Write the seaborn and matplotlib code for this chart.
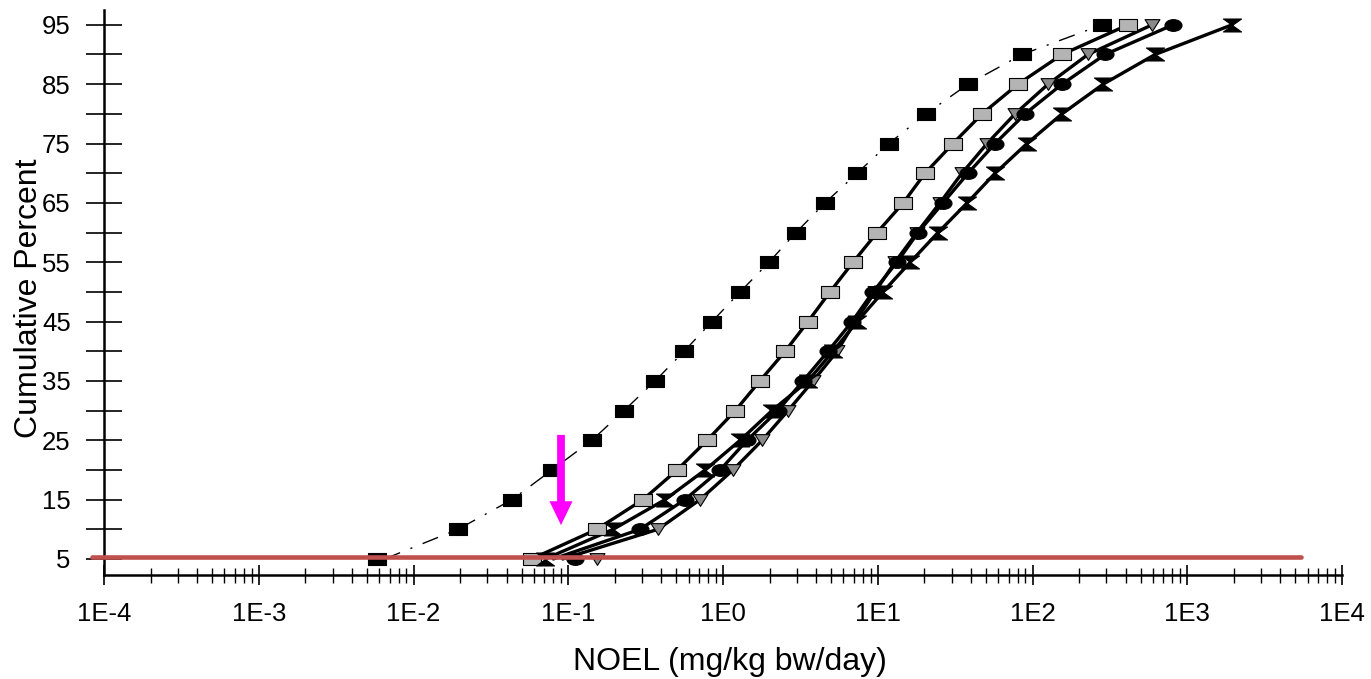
import matplotlib
matplotlib.use("Agg")
import matplotlib.pyplot as plt
import seaborn as sns
import numpy as np
from matplotlib.path import Path
from matplotlib.ticker import LogLocator, NullFormatter

# cumulative percent levels shared by every series
percent = [5, 10, 15, 20, 25, 30, 35, 40, 45, 50, 55, 60, 65, 70, 75, 80, 85, 90, 95]

# NOEL values (mg/kg bw/day), one list per series
noel_black_sq = [0.0058, 0.0194, 0.0433, 0.0785, 0.142, 0.229, 0.364, 0.56, 0.849, 1.29,
                 1.98, 2.96, 4.56, 7.35, 11.8, 20.5, 38.3, 85.5, 281]
noel_gray_sq = [0.0583, 0.153, 0.304, 0.505, 0.789, 1.20, 1.73, 2.52, 3.54, 4.91,
                6.92, 9.89, 14.6, 20.2, 30.6, 47.2, 80.5, 155, 414]
noel_triangle = [0.153, 0.38, 0.71, 1.16, 1.79, 2.63, 3.82, 5.46, 7.13, 9.6,
                 12.9, 17.9, 25.2, 35.0, 50.8, 77.1, 126, 228, 592]
noel_circle = [0.111, 0.291, 0.567, 0.957, 1.43, 2.26, 3.29, 4.77, 6.82, 9.31,
               13.3, 18.2, 26.4, 38.3, 57.3, 89.5, 155, 294, 809]
noel_hourglass = [0.0708, 0.195, 0.422, 0.766, 1.29, 2.07, 3.54, 5.14, 7.35, 10.8,
                  16.2, 24.5, 37.8, 57.3, 92.1, 155, 286, 619, 1945]

# where each fitted curve starts at the 5 % level (black sq, gray sq, triangle, circle, hourglass)
curve_start = [0.0065, 0.058, 0.092, 0.08, 0.071]

# 5 % cut-off line and the arrow pointing at it
cutoff_x = [8.4e-5, 5.4e3]
cutoff_y = [5.4, 5.4]
arrow_x = 0.0897
arrow_tail, arrow_tip = 25.9, 10.7

x_ticks = [1e-4, 1e-3, 1e-2, 1e-1, 1e0, 1e1, 1e2, 1e3, 1e4]
x_tick_labels = ["1E-4", "1E-3", "1E-2", "1E-1", "1E0", "1E1", "1E2", "1E3", "1E4"]
y_major = [5, 15, 25, 35, 45, 55, 65, 75, 85, 95]
y_minor = [10, 20, 30, 40, 50, 60, 70, 80, 90]

# marker shapes (wider than tall, like the scanned figure)
rect = Path([(-1.45, -1), (1.45, -1), (1.45, 1), (-1.45, 1), (-1.45, -1)],
            [Path.MOVETO, Path.LINETO, Path.LINETO, Path.LINETO, Path.CLOSEPOLY])
tri_down = Path([(-1.27, 1), (1.27, 1), (0, -1), (-1.27, 1)],
                [Path.MOVETO, Path.LINETO, Path.LINETO, Path.CLOSEPOLY])
hourglass = Path([(-1.4, 1), (1.4, 1), (-1.4, -1), (1.4, -1), (-1.4, 1)],
                 [Path.MOVETO, Path.LINETO, Path.LINETO, Path.LINETO, Path.CLOSEPOLY])
circ = Path.unit_circle()
ellipse = Path(circ.vertices * np.array([1.45, 1.0]), circ.codes)

sns.set_style("ticks")
plt.rcParams["font.family"] = ["Liberation Sans", "DejaVu Sans"]

fig = plt.figure(figsize=(13.71, 6.79), dpi=100)
ax = fig.add_axes([0.0759, 0.1532, 0.9030, 0.8321])
ax.set_xscale("log")

series = [
    (noel_black_sq, curve_start[0], rect, 180, "black", 1.0, (0, (12, 8, 1.5, 8))),
    (noel_gray_sq, curve_start[1], rect, 180, "#b4b4b4", 2.4, "-"),
    (noel_triangle, curve_start[2], tri_down, 115, "#8a8a8a", 2.4, "-"),
    (noel_circle, curve_start[3], ellipse, 150, "black", 2.4, "-"),
    (noel_hourglass, curve_start[4], hourglass, 170, "black", 2.4, "-"),
]

for xs, x0, mk, size, fill, lw, ls in series:
    line_x = [x0] + xs[1:]
    sns.lineplot(x=line_x, y=percent, ax=ax, color="black", lw=lw, linestyle=ls,
                 estimator=None, sort=False, zorder=2)
    sns.scatterplot(x=xs, y=percent, ax=ax, marker=mk, s=size, color=fill,
                    edgecolor="black", linewidth=0.8, zorder=3, legend=False)

sns.lineplot(x=cutoff_x, y=cutoff_y, ax=ax, color="#c0504d", lw=3.3,
             estimator=None, clip_on=False, zorder=4)

ax.annotate("", xy=(arrow_x, arrow_tip), xytext=(arrow_x, arrow_tail),
            arrowprops=dict(arrowstyle="simple,head_length=0.86,head_width=0.83,tail_width=0.28",
                            mutation_scale=20, fc="#ff00ff", ec="none",
                            shrinkA=0, shrinkB=0),
            zorder=5)

ax.set_xlim(1e-4, 1e4)
ax.set_ylim(2.3, 97.5)
ax.set_xticks(x_ticks, labels=x_tick_labels)
ax.xaxis.set_minor_locator(LogLocator(base=10, subs=np.arange(2, 10)))
ax.xaxis.set_minor_formatter(NullFormatter())
ax.set_yticks(y_major)
ax.set_yticks(y_minor, minor=True)

ax.spines[["top", "right"]].set_visible(False)
for side in ["left", "bottom"]:
    ax.spines[side].set_linewidth(1.8)
    ax.spines[side].set_color("black")

ax.tick_params(axis="y", which="both", direction="inout", length=26, width=1.2,
               left=True, labelsize=18.5, pad=11, colors="black")
ax.tick_params(axis="x", which="major", direction="inout", length=14.4, width=1.2,
               bottom=True, labelsize=18.5, pad=12, colors="black")
ax.tick_params(axis="x", which="minor", direction="inout", length=10.8, width=1.0,
               bottom=True, colors="black")

ax.set_xlabel("NOEL (mg/kg bw/day)", fontsize=23, color="black")
ax.xaxis.set_label_coords(0.5057, -0.127)
ax.set_ylabel("Cumulative Percent", fontsize=23, color="black")
ax.yaxis.set_label_coords(-0.0485, 0.49)

fig.savefig("out.png", dpi=100)
plt.close(fig)
